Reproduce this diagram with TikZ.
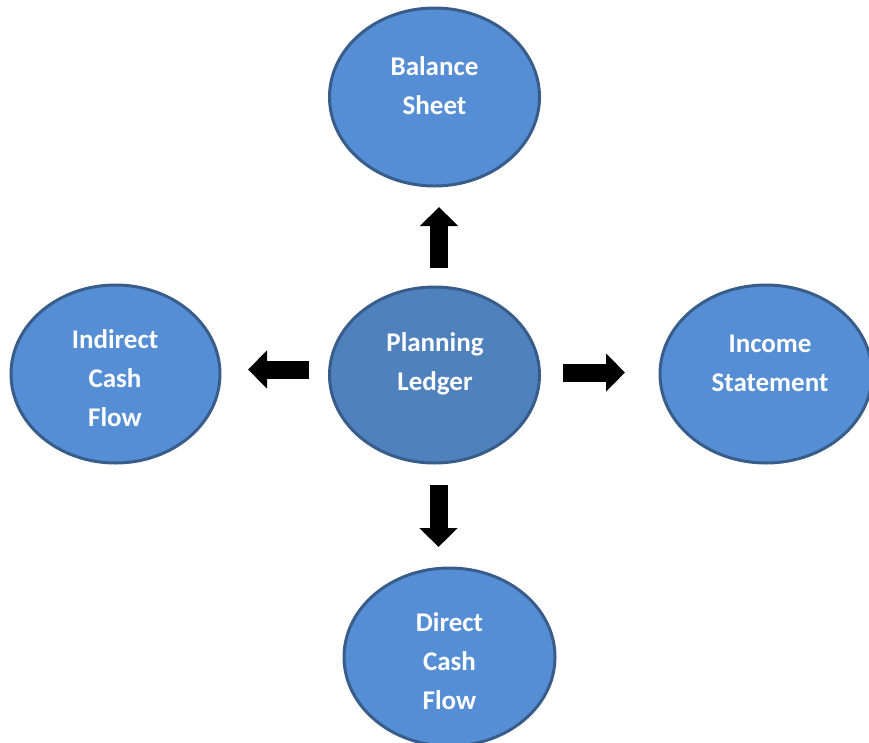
\documentclass[tikz,border=0pt]{standalone}
\usepackage{fontspec}
\setmainfont{Carlito}
\usetikzlibrary{arrows.meta}
\definecolor{ellfill}{RGB}{85,142,213}
\definecolor{ellfilldark}{RGB}{79,129,189}
\definecolor{ellborder}{RGB}{56,93,138}
\tikzset{
  ell/.style={draw=ellborder, line width=3pt, fill=ellfill},
  lbl/.style={text=white, font=\bfseries\fontsize{27}{39}\selectfont, align=center, inner sep=0pt},
  blockarrow/.style={line width=18pt, -{Triangle[width=37pt,length=19pt]}, black}
}
\begin{document}
\begin{tikzpicture}[x=1pt,y=-1pt]
\useasboundingbox (0,0) rectangle (869,742);
% ellipses
\draw[ell] (434.5,97) ellipse [x radius=105, y radius=89];
\draw[ell, fill=ellfilldark] (434.5,375) ellipse [x radius=105, y radius=88];
\draw[ell] (115.5,374) ellipse [x radius=104.5, y radius=89];
\draw[ell] (766,374) ellipse [x radius=106, y radius=89];
\draw[ell] (449.5,657) ellipse [x radius=105.5, y radius=89];
% labels
\node[lbl] (bs) at (434.5,86) {Balance\\Sheet};
\node[lbl] (pl) at (435,363.5) {Planning\\Ledger};
\node[lbl] (icf) at (115,378) {Indirect\\Cash\\Flow};
\node[lbl] (is) at (770,363) {Income\\Statement};
\node[lbl] (dcf) at (449.5,661) {Direct\\Cash\\Flow};
% arrow anchors
\coordinate (upS) at (439,268);
\coordinate (upE) at (439,207);
\coordinate (dnS) at (438.5,485);
\coordinate (dnE) at (438.5,547);
\coordinate (lfS) at (309,369.5);
\coordinate (lfE) at (248,369.5);
\coordinate (rtS) at (563,372.5);
\coordinate (rtE) at (625,372.5);
\draw[blockarrow] (upS) -- (upE);
\draw[blockarrow] (dnS) -- (dnE);
\draw[blockarrow] (lfS) -- (lfE);
\draw[blockarrow] (rtS) -- (rtE);
\end{tikzpicture}
\end{document}
